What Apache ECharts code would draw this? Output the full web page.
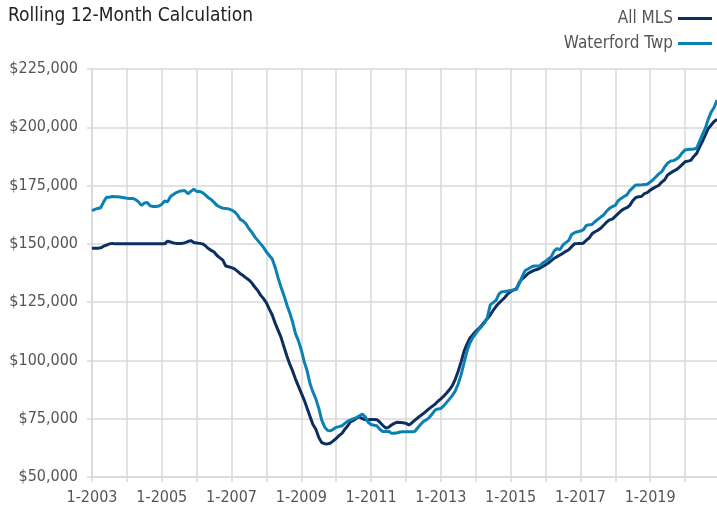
<!DOCTYPE html>
<html>
<head>
<meta charset="utf-8">
<script src="https://cdn.jsdelivr.net/npm/echarts@6/dist/echarts.min.js"></script>
<style>
  html, body { margin: 0; padding: 0; background: #fff; }
  #chart { width: 717px; height: 515px; }
</style>
</head>
<body>
<div id="chart"></div>
<script>
const FONT = "'Liberation Sans Narrow', 'DejaVu Sans Condensed', sans-serif";

const startYear = 2003;
const monthCount = 216;
const categories = [];
for (let i = 0; i < monthCount; i++) {
  categories.push((i % 12 + 1) + "-" + (startYear + Math.floor(i / 12)));
}

const yTicks = [50000, 75000, 100000, 125000, 150000, 175000, 200000, 225000];

// All MLS, rolling 12-month median, Jan 2003 - Dec 2020
const allMls = [
  148100, 148100, 148100, 148300, 149000, 149500, 150000, 150200, 150000, 150000, 150000, 150000,
  150000, 150000, 150000, 150000, 150000, 150000, 150000, 150000, 150000, 150000, 150000, 150000,
  150000, 150000, 151200, 150800, 150400, 150200, 150200, 150200, 150500, 151000, 151400, 150600,
  150400, 150200, 150000, 149200, 148000, 147200, 146500, 145000, 144000, 143000, 140500, 140200,
  139800, 139300, 138300, 137200, 136400, 135400, 134500, 133200, 131500, 130000, 128000, 126500,
  124700, 122000, 119500, 116000, 113000, 110000, 106000, 102000, 98500, 95500, 92000, 89000,
  86000, 83000, 79500, 76000, 72500, 70500, 67000, 64800, 64300, 64200, 64500, 65500,
  66500, 67800, 68700, 70500, 72000, 73800, 74300, 75200, 75800, 75000, 74600, 74600,
  74700, 74700, 74600, 73500, 72200, 71000, 71300, 72300, 73000, 73500, 73400, 73300,
  73000, 72300, 73200, 74300, 75300, 76300, 77200, 78300, 79300, 80300, 81200, 82500,
  83500, 84700, 86000, 87500, 89300, 92000, 95500, 99500, 104000, 107000, 109500, 111000,
  112500, 113600, 115000, 116500, 118000, 119500, 121500, 123200, 124600, 125800, 127000, 128500,
  129500, 130200, 130800, 133500, 135000, 136000, 137300, 138000, 138600, 139000, 139500, 140300,
  141000, 141800, 142800, 143800, 144500, 145200, 146000, 146800, 147500, 148800, 150000, 150100,
  150100, 150300, 151500, 152500, 154300, 155200, 155800, 156700, 158000, 159300, 160300, 160600,
  161800, 163000, 164200, 165000, 165500, 166500, 168500, 169800, 170200, 170300, 171500, 172000,
  173000, 173800, 174500, 175100, 176500, 177500, 179500, 180400, 181200, 181800, 182800, 184000,
  185200, 185500, 185800, 187500, 188800, 191500, 194000, 196700, 199500, 201000, 202500, 203400
];

// Waterford Twp, rolling 12-month median, Jan 2003 - Dec 2020
const waterford = [
  164300, 164800, 165200, 165500, 168000, 170000, 170000, 170300, 170200, 170200, 170000, 169800,
  169600, 169500, 169500, 169000, 168000, 166500, 167500, 167700, 166300, 166000, 166000, 166200,
  167000, 168400, 168000, 170300, 171200, 172000, 172500, 172800, 172800, 171500, 172500, 173400,
  172500, 172500, 172000, 171000, 169800, 169000, 167800, 166500, 165800, 165300, 165200, 165000,
  164500, 163800, 162500, 160500, 159800, 158500, 156500, 155000, 153000, 151500, 150000, 148500,
  146500, 145000, 143500, 140000, 135500, 131500, 128000, 124000, 120500, 116500, 111500, 108500,
  104500, 99500, 95500, 90000, 86500, 83500, 79500, 74500, 71500, 70000, 69800, 70500,
  71300, 71600, 72000, 73000, 74000, 74500, 75000, 75500, 76300, 77000, 75800, 73500,
  72500, 72200, 72000, 70500, 69500, 69500, 69600, 68800, 68800, 69000, 69300, 69400,
  69400, 69400, 69400, 69500, 71000, 72500, 73800, 74500, 75500, 77000, 78700, 79200,
  79400, 80500, 82000, 83500, 85000, 87000, 90000, 94000, 99000, 104000, 107500, 109800,
  111500, 113200, 114500, 116000, 118500, 123800, 124800, 125800, 128500, 129500, 129600, 129800,
  130000, 130200, 130400, 133000, 136000, 138500, 139200, 140000, 140500, 140500, 140600, 141800,
  142500, 143500, 144500, 147000, 148000, 147500, 149500, 150500, 151500, 154000, 154800, 155200,
  155500, 156000, 157800, 158200, 158300, 159500, 160500, 161500, 162400, 164000, 165200, 166000,
  166500, 168500, 169500, 170300, 171000, 172800, 174000, 175200, 175200, 175300, 175500, 175600,
  176500, 177500, 178800, 180000, 181000, 183000, 184600, 185500, 185700, 186300, 187300, 189000,
  190300, 190500, 190600, 190700, 191000, 194000, 197000, 199600, 203500, 206500, 208500, 211700
];

const formatDollars = (v) =>
  "$" + String(v).replace(/\B(?=(\d{3})+(?!\d))/g, ",");

const gridColor = "#d9d9d9";
const labelColor = "#555";

const chart = echarts.init(document.getElementById("chart"));
chart.setOption({
  animation: false,
  textStyle: { fontFamily: FONT },
  title: {
    text: "Rolling 12-Month Calculation",
    left: 3,
    top: 2,
    textStyle: { fontFamily: FONT, fontSize: 19, fontWeight: "normal", color: "#222" },
  },
  legend: {
    orient: "vertical",
    right: 0,
    top: 5,
    align: "right",
    icon: "rect",
    itemWidth: 34,
    itemHeight: 3,
    itemGap: 8,
    textStyle: { fontFamily: FONT, fontSize: 17, color: labelColor },
    data: ["All MLS", "Waterford Twp"],
  },
  grid: {
    left: 92,
    right: 0,
    top: 69,
    bottom: 38,
  },
  xAxis: {
    type: "category",
    boundaryGap: false,
    data: categories,
    axisLine: { lineStyle: { color: gridColor, width: 1.5 } },
    axisTick: {
      interval: (i) => i % 12 === 0,
      length: 5,
      lineStyle: { color: gridColor, width: 1.5 },
    },
    axisLabel: {
      interval: (i) => i % 24 === 0,
      margin: 13,
      fontFamily: FONT,
      fontSize: 16,
      color: labelColor,
    },
    splitLine: {
      show: true,
      interval: (i) => i % 12 === 0,
      lineStyle: { color: gridColor, width: 1.5 },
    },
  },
  yAxis: {
    type: "value",
    min: yTicks[0],
    max: yTicks[yTicks.length - 1],
    interval: 25000,
    axisLine: { show: true, lineStyle: { color: gridColor, width: 1.5 } },
    axisTick: { show: true, length: 5, lineStyle: { color: gridColor, width: 1.5 } },
    axisLabel: {
      margin: 14,
      fontFamily: FONT,
      fontSize: 16,
      color: labelColor,
      formatter: formatDollars,
    },
    splitLine: { lineStyle: { color: gridColor, width: 1.5 } },
  },
  series: [
    {
      name: "All MLS",
      type: "line",
      data: allMls,
      symbol: "none",
      color: "#0d2f5f",
      lineStyle: { width: 3, color: "#0d2f5f" },
    },
    {
      name: "Waterford Twp",
      type: "line",
      data: waterford,
      symbol: "none",
      color: "#0b80b3",
      lineStyle: { width: 3, color: "#0b80b3" },
    },
  ],
});
</script>
</body>
</html>
